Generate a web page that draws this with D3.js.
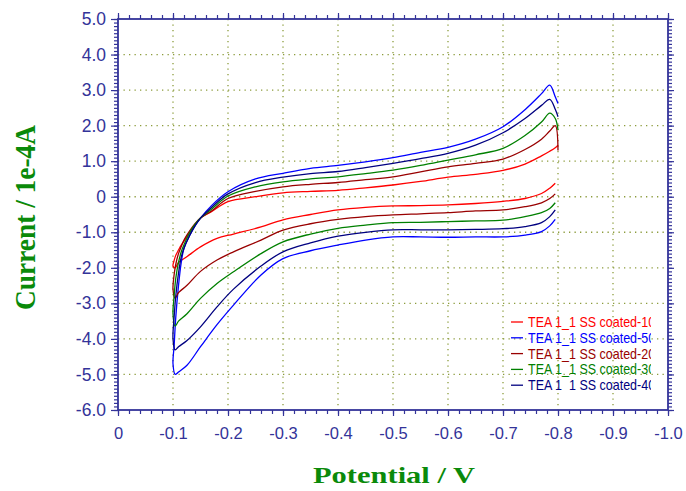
<!DOCTYPE html>
<html>
<head>
<meta charset="utf-8">
<script src="https://cdn.jsdelivr.net/npm/d3@7"></script>
<style>
  body { margin: 0; background: #fff; }
  svg { display: block; }
</style>
</head>
<body>
<script>
// potentials of the return (lower) branch, from -0.8 back to -0.1
var lowPot = [-0.795, -0.785, -0.77, -0.74, -0.7, -0.65, -0.6, -0.55, -0.5, -0.45, -0.4, -0.35, -0.3, -0.26, -0.21, -0.18, -0.15, -0.125, -0.11, -0.104];
// potentials of the forward (upper) branch, -0.1 to -0.8
var upPot = [-0.1, -0.102, -0.105, -0.11, -0.115, -0.12, -0.13, -0.14, -0.15, -0.17, -0.2, -0.25, -0.3, -0.35, -0.4, -0.45, -0.5, -0.55, -0.6, -0.65, -0.7, -0.74, -0.77, -0.785, -0.795, -0.8];

// currents in 1e-4 A
var low10 = [0.38, 0.24, 0.09, -0.05, -0.13, -0.19, -0.23, -0.25, -0.26, -0.3, -0.37, -0.5, -0.65, -0.85, -1.05, -1.17, -1.41, -1.69, -1.85, -2.0];
var up10  = [-1.95, -1.8, -1.65, -1.5, -1.36, -1.25, -1.02, -0.8, -0.6, -0.42, -0.14, 0.0, 0.11, 0.15, 0.18, 0.25, 0.33, 0.43, 0.55, 0.63, 0.74, 0.92, 1.15, 1.28, 1.38, 1.45];
var low20 = [0.08, -0.05, -0.17, -0.28, -0.37, -0.4, -0.45, -0.48, -0.51, -0.56, -0.64, -0.76, -0.94, -1.22, -1.55, -1.78, -2.1, -2.5, -2.7, -2.86];
var up20  = [-2.6, -2.2, -1.9, -1.6, -1.4, -1.22, -0.97, -0.76, -0.6, -0.4, -0.05, 0.15, 0.28, 0.35, 0.4, 0.48, 0.56, 0.7, 0.84, 0.94, 1.06, 1.33, 1.62, 1.85, 2.0, 1.3];
var low30 = [-0.17, -0.33, -0.45, -0.56, -0.66, -0.68, -0.7, -0.72, -0.73, -0.8, -0.89, -1.05, -1.27, -1.6, -2.11, -2.44, -2.86, -3.3, -3.5, -3.64];
var up30  = [-3.3, -2.8, -2.3, -1.85, -1.55, -1.35, -1.02, -0.78, -0.6, -0.35, 0.02, 0.28, 0.42, 0.5, 0.56, 0.65, 0.75, 0.88, 1.03, 1.18, 1.36, 1.72, 2.1, 2.35, 2.2, 1.88];
var low40 = [-0.37, -0.56, -0.73, -0.84, -0.9, -0.92, -0.93, -0.93, -0.93, -1.0, -1.11, -1.3, -1.55, -1.95, -2.6, -3.1, -3.66, -4.05, -4.22, -4.31];
var up40  = [-4.0, -3.4, -2.8, -2.15, -1.7, -1.45, -1.1, -0.82, -0.6, -0.3, 0.08, 0.4, 0.55, 0.65, 0.71, 0.82, 0.94, 1.07, 1.22, 1.45, 1.8, 2.2, 2.57, 2.74, 2.46, 2.25];
var low50 = [-0.64, -0.82, -0.98, -1.08, -1.13, -1.13, -1.14, -1.13, -1.13, -1.22, -1.36, -1.52, -1.74, -2.2, -3.05, -3.6, -4.22, -4.75, -4.93, -5.0];
var up50  = [-4.7, -4.2, -3.4, -2.5, -1.85, -1.45, -1.1, -0.82, -0.6, -0.25, 0.14, 0.5, 0.66, 0.8, 0.88, 0.98, 1.1, 1.25, 1.39, 1.62, 1.97, 2.45, 2.9, 3.14, 2.81, 2.62];

var seriesNames = ["TEA 1_1 SS coated-10", "TEA 1_1 SS coated-50", "TEA 1_1 SS coated-20", "TEA 1_1 SS coated-30", "TEA 1_1 SS coated-40"];
var seriesColors = ["#ff0000", "#0000ff", "#990000", "#008000", "#000080"];
var seriesLow = [low10, low50, low20, low30, low40];
var seriesUp = [up10, up50, up20, up30, up40];

var xTicks = [0, -0.1, -0.2, -0.3, -0.4, -0.5, -0.6, -0.7, -0.8, -0.9, -1.0];
var yTicks = [5, 4, 3, 2, 1, 0, -1, -2, -3, -4, -5, -6];

var W = 686, H = 491;
var L = 118, R = 668, T = 19, B = 410;
var axisColor = "#333399";

var svg = d3.select("body").append("svg").attr("width", W).attr("height", H);

var x = d3.scaleLinear().domain([0, -1]).range([L, R]);
var y = d3.scaleLinear().domain([-6, 5]).range([B, T]);

var fmt = function(d){ return d == 0 ? "0" : d.toFixed(1); };

// grid
var grid = svg.append("g").attr("stroke", "#8c9c3c").attr("stroke-width", 1.3).attr("stroke-dasharray", "1.3,4.2");
grid.selectAll("line.v").data(xTicks.slice(1, -1)).enter().append("line")
  .attr("x1", function(d){ return x(d); }).attr("x2", function(d){ return x(d); })
  .attr("y1", T).attr("y2", B);
grid.selectAll("line.h").data(yTicks.slice(1, -1)).enter().append("line")
  .attr("x1", L).attr("x2", R)
  .attr("y1", function(d){ return y(d); }).attr("y2", function(d){ return y(d); });

// minor ticks
var xMinor = d3.range(0, 51).map(function(i){ return -i * 0.02; });
var yMinor = d3.range(0, 111).map(function(i){ return -6 + i * 0.1; });

function styleAxis(g){
  g.select(".domain").remove();
  g.selectAll(".tick line").attr("stroke", axisColor).attr("stroke-width", 1.2);
  g.selectAll("text").attr("fill", axisColor).attr("font-family", "Liberation Sans, Arial, sans-serif");
}

svg.append("g").attr("transform", "translate(" + L + ",0)")
  .call(d3.axisLeft(y).tickValues(yMinor).tickSize(4).tickFormat(""))
  .call(styleAxis);
svg.append("g").attr("transform", "translate(" + R + ",0)")
  .call(d3.axisRight(y).tickValues(yMinor).tickSize(4).tickFormat(""))
  .call(styleAxis);
svg.append("g").attr("transform", "translate(0," + B + ")")
  .call(d3.axisBottom(x).tickValues(xMinor).tickSize(4).tickFormat(""))
  .call(styleAxis);
svg.append("g").attr("transform", "translate(0," + T + ")")
  .call(d3.axisTop(x).tickValues(xMinor).tickSize(4).tickFormat(""))
  .call(styleAxis);

// major ticks with labels
svg.append("g").attr("transform", "translate(" + L + ",0)")
  .call(d3.axisLeft(y).tickValues(yTicks).tickSize(7).tickPadding(5).tickFormat(fmt))
  .call(styleAxis)
  .selectAll("text").attr("font-size", "17.5px");
svg.append("g").attr("transform", "translate(0," + B + ")")
  .call(d3.axisBottom(x).tickValues(xTicks).tickSize(6).tickPadding(11).tickFormat(fmt))
  .call(styleAxis)
  .selectAll("text").attr("font-size", "16.5px");
svg.append("g").attr("transform", "translate(" + R + ",0)")
  .call(d3.axisRight(y).tickValues(yTicks).tickSize(6).tickFormat(""))
  .call(styleAxis);
svg.append("g").attr("transform", "translate(0," + T + ")")
  .call(d3.axisTop(x).tickValues(xTicks).tickSize(6).tickFormat(""))
  .call(styleAxis);

// frame
svg.append("rect").attr("x", L).attr("y", T).attr("width", R - L).attr("height", B - T)
  .attr("fill", "none").attr("stroke", axisColor).attr("stroke-width", 1.8);

// curves
var line = d3.line().x(function(d){ return x(d[0]); }).y(function(d){ return y(d[1]); })
  .curve(d3.curveCatmullRom.alpha(0.5));
for (var s = 0; s < seriesNames.length; s++) {
  var pts = [];
  for (var i = 0; i < lowPot.length; i++) pts.push([lowPot[i], seriesLow[s][i]]);
  for (var j = 0; j < upPot.length; j++) pts.push([upPot[j], seriesUp[s][j]]);
  svg.append("path").datum(pts).attr("d", line)
    .attr("fill", "none").attr("stroke", seriesColors[s]).attr("stroke-width", 1.3)
    .attr("stroke-linejoin", "round");
}

// legend
svg.append("clipPath").attr("id", "legclip").append("rect")
  .attr("x", 500).attr("y", 310).attr("width", 151).attr("height", 82);
var leg = svg.append("g").attr("clip-path", "url(#legclip)");
seriesNames.forEach(function(n, i){
  var ly = 322 + i * 15.8;
  leg.append("line").attr("x1", 511).attr("x2", 523).attr("y1", ly).attr("y2", ly)
    .attr("stroke", seriesColors[i]).attr("stroke-width", 1.3);
  leg.append("text").text(n)
    .attr("transform", "translate(528," + (ly + 5) + ") scale(1,1.12)")
    .attr("fill", seriesColors[i]).attr("font-size", "12.5px")
    .attr("font-family", "Liberation Sans, Arial, sans-serif");
});

// axis titles
svg.append("text").text("Potential / V")
  .attr("x", 313).attr("y", 483)
  .attr("textLength", 162).attr("lengthAdjust", "spacingAndGlyphs")
  .attr("fill", "#0a8a0a").attr("font-weight", "bold").attr("font-size", "23px")
  .attr("font-family", "Liberation Serif, Times New Roman, serif");

svg.append("text").text("Current / 1e-4A")
  .attr("transform", "translate(35,310) rotate(-90) scale(1,1.35)")
  .attr("x", 0).attr("y", 0)
  .attr("textLength", 185).attr("lengthAdjust", "spacingAndGlyphs")
  .attr("fill", "#0a8a0a").attr("font-weight", "bold").attr("font-size", "22px")
  .attr("font-family", "Liberation Serif, Times New Roman, serif");
</script>
</body>
</html>
